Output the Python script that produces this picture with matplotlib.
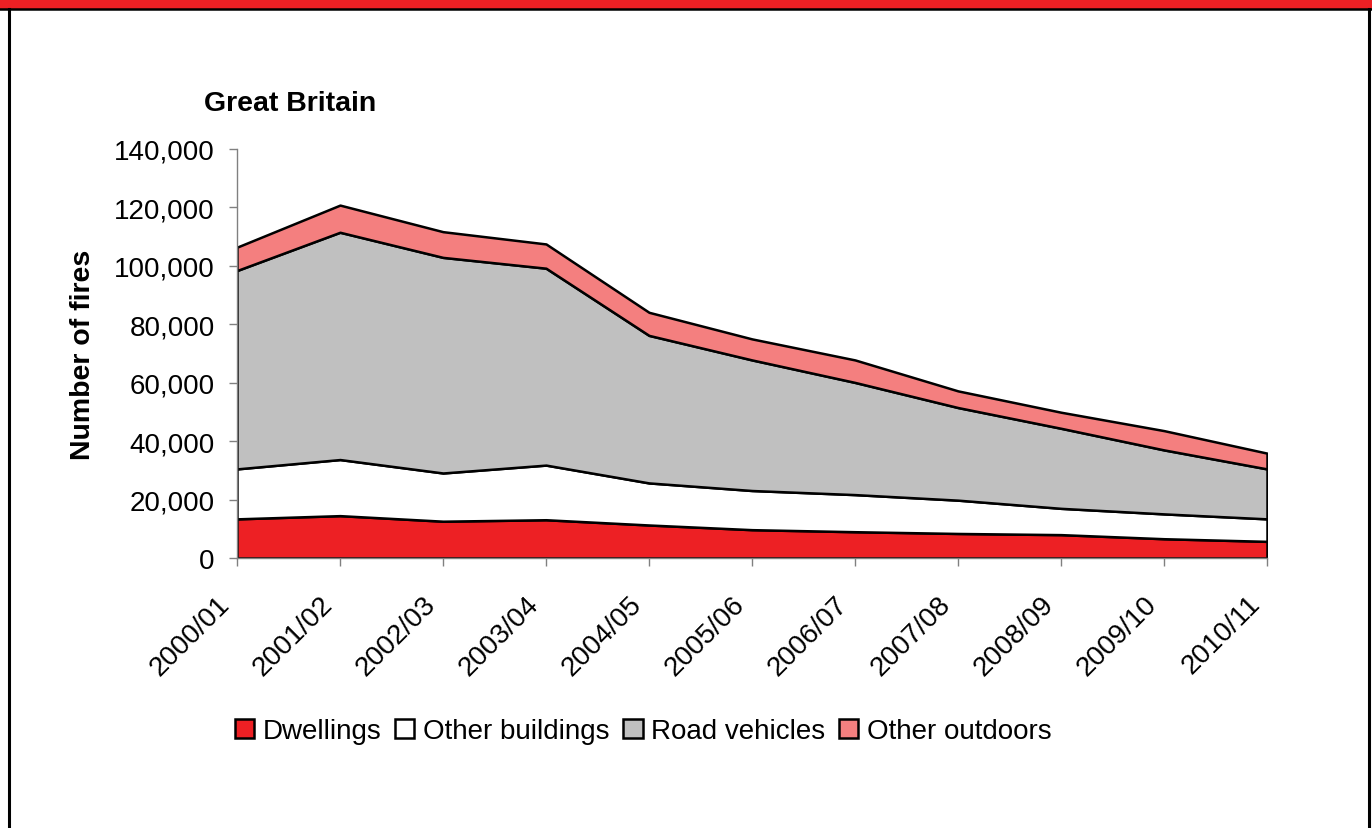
import numpy as np
import matplotlib.pyplot as plt
from matplotlib.ticker import FuncFormatter
from matplotlib.patches import Rectangle
from matplotlib.lines import Line2D
from matplotlib.transforms import ScaledTranslation

plt.rcParams['font.family'] = ['Liberation Sans', 'DejaVu Sans']

years = ['2000/01', '2001/02', '2002/03', '2003/04', '2004/05', '2005/06',
         '2006/07', '2007/08', '2008/09', '2009/10', '2010/11']

# number of fires by location
dwellings = [13400, 14500, 12600, 13100, 11300, 9700, 9000, 8400, 8000, 6600, 5700]
other_buildings = [17100, 19200, 16500, 18700, 14400, 13400, 12700, 11400, 9000, 8500, 7700]
road_vehicles = [67900, 77800, 73800, 67400, 50500, 44700, 38400, 31700, 27400, 21900, 17100]
other_outdoors = [8000, 9300, 8800, 8300, 7900, 7200, 7700, 5700, 5500, 6600, 5400]

labels = ['Dwellings', 'Other buildings', 'Road vehicles', 'Other outdoors']
colors = ['#ED2024', '#FFFFFF', '#C0C0C0', '#F47F7F']

fig = plt.figure(figsize=(13.72, 8.29), dpi=100)
ax = fig.add_axes([237 / 1372, 1 - 559 / 829, 1030 / 1372, 409 / 829])

x = np.arange(len(years))
polys = ax.stackplot(x, dwellings, other_buildings, road_vehicles, other_outdoors,
                     labels=labels, colors=colors, edgecolor='black', linewidth=1.8)

ax.set_xlim(0, len(years) - 1)
ax.set_ylim(0, 140000)
ax.set_yticks(np.arange(0, 140001, 20000))
ax.yaxis.set_major_formatter(FuncFormatter(lambda v, p: f'{int(v):,}'))
ax.set_xticks(x)

for s in ['top', 'right']:
    ax.spines[s].set_visible(False)
for s in ['left', 'bottom']:
    ax.spines[s].set_color('#808080')
    ax.spines[s].set_linewidth(1)
ax.tick_params(axis='both', colors='#808080', labelcolor='black', labelsize=20,
               length=6, width=1)
ax.tick_params(axis='y', pad=10)
ax.tick_params(axis='x', pad=24)

# rotated year labels, nudged left so their ends sit just under the ticks
ax.set_xticklabels(years, rotation=45, ha='right', va='center', rotation_mode='anchor')
shift = ScaledTranslation(-11 / 100, 0, fig.dpi_scale_trans)
for lab in ax.get_xticklabels():
    lab.set_transform(lab.get_transform() + shift)

ax.set_ylabel('Number of fires', fontsize=20.5, fontweight='bold')
ax.yaxis.set_label_coords(-0.137, 0.5)

fig.text(204 / 1372, 1 - 104 / 829, 'Great Britain', fontsize=20.5,
         fontweight='bold', ha='left', va='center')

fig.legend(handles=polys, labels=labels, loc='center',
           bbox_to_anchor=(643 / 1372, 1 - 732 / 829), ncol=4, frameon=False,
           fontsize=20, handlelength=0.7, handleheight=0.7,
           handletextpad=0.3, columnspacing=0.5)

# red banner and frame
fig.patches.append(Rectangle((0, 1 - 10 / 829), 1, 10 / 829, transform=fig.transFigure,
                             facecolor='#ED2024', edgecolor='none'))
fig.lines.append(Line2D([0, 1], [1 - 10 / 829] * 2, transform=fig.transFigure,
                        color='black', linewidth=1.8))
fig.lines.append(Line2D([8.5 / 1372] * 2, [0, 1 - 10 / 829], transform=fig.transFigure,
                        color='black', linewidth=2.2))
fig.lines.append(Line2D([1368.5 / 1372] * 2, [0, 1 - 10 / 829], transform=fig.transFigure,
                        color='black', linewidth=2.2))

fig.savefig('out.png', dpi=100)
